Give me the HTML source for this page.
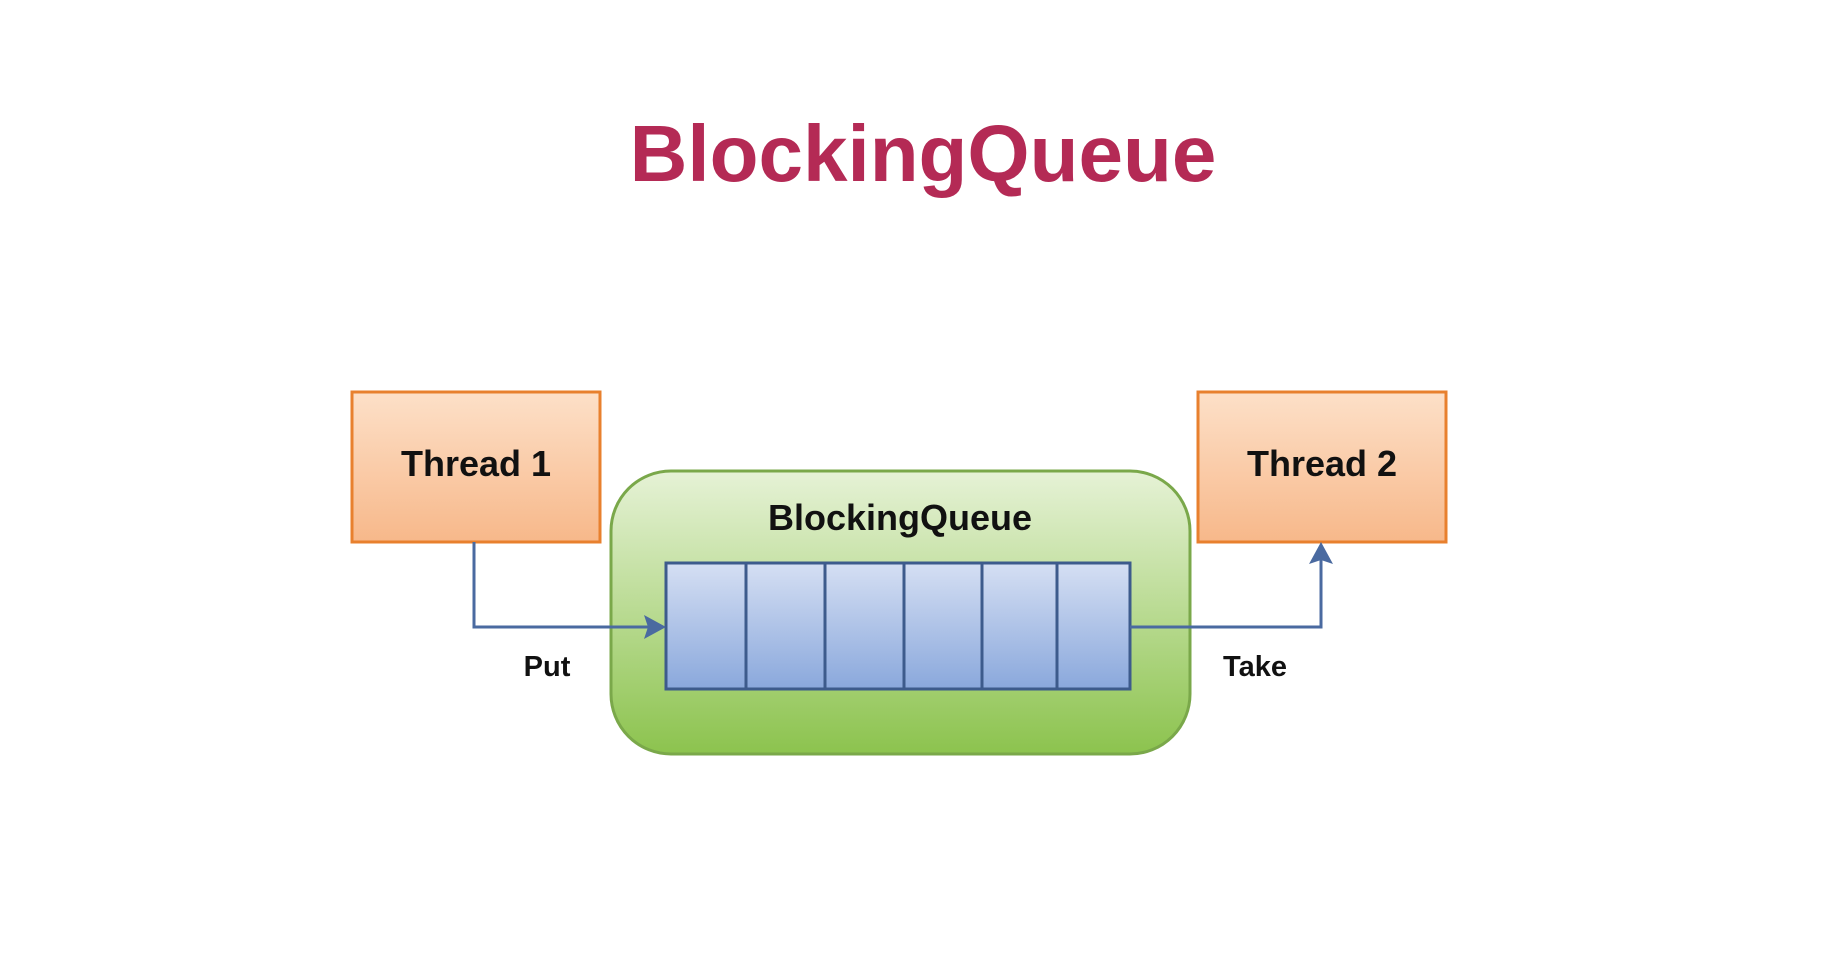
<!DOCTYPE html>
<html><head><style>
html,body{margin:0;padding:0;background:#fff;width:1827px;height:966px;overflow:hidden;font-family:"Liberation Sans",Arial,sans-serif}
</style></head><body>
<svg width="1827" height="966" viewBox="0 0 1827 966" xmlns="http://www.w3.org/2000/svg">
<defs>
<linearGradient id="og" x1="0" y1="0" x2="0" y2="1"><stop offset="0" stop-color="#fde0c8"/><stop offset="1" stop-color="#f7b88a"/></linearGradient>
<linearGradient id="gg" x1="0" y1="0" x2="0" y2="1"><stop offset="0" stop-color="#e6f2d6"/><stop offset="1" stop-color="#8cc34e"/></linearGradient>
<linearGradient id="bg" x1="0" y1="0" x2="0" y2="1"><stop offset="0" stop-color="#d5dff3"/><stop offset="1" stop-color="#8aa8dc"/></linearGradient>
</defs>
<text x="923" y="181" text-anchor="middle" font-size="80" font-weight="bold" fill="#b42a55" font-family="Liberation Sans, sans-serif">BlockingQueue</text>
<rect x="352" y="392" width="248" height="150" fill="url(#og)" stroke="#e8802e" stroke-width="3"/>
<rect x="1198" y="392" width="248" height="150" fill="url(#og)" stroke="#e8802e" stroke-width="3"/>
<text x="476" y="476" text-anchor="middle" font-size="36" font-weight="bold" fill="#111">Thread 1</text>
<text x="1322" y="476" text-anchor="middle" font-size="36" font-weight="bold" fill="#111">Thread 2</text>
<rect x="611" y="471" width="579" height="283" rx="60" fill="url(#gg)" stroke="#7aa84a" stroke-width="3"/>
<text x="900" y="530" text-anchor="middle" font-size="36" font-weight="bold" fill="#111">BlockingQueue</text>
<rect x="666" y="563" width="464" height="126" fill="url(#bg)" stroke="#3d5b8c" stroke-width="3"/>
<g stroke="#3d5b8c" stroke-width="3">
<line x1="746" y1="563" x2="746" y2="689"/><line x1="825" y1="563" x2="825" y2="689"/>
<line x1="904" y1="563" x2="904" y2="689"/><line x1="982" y1="563" x2="982" y2="689"/>
<line x1="1057" y1="563" x2="1057" y2="689"/>
</g>
<polyline points="474,542 474,627 652,627" fill="none" stroke="#4a6aa0" stroke-width="3"/>
<polygon points="666,627 644,615 648,627 644,639" fill="#4a6aa0"/>
<polyline points="1130,627 1321,627 1321,556" fill="none" stroke="#4a6aa0" stroke-width="3"/>
<polygon points="1321,542 1309,564 1321,560 1333,564" fill="#4a6aa0"/>
<text x="547" y="676" text-anchor="middle" font-size="29" font-weight="bold" fill="#111">Put</text>
<text x="1255" y="676" text-anchor="middle" font-size="29" font-weight="bold" fill="#111">Take</text>
</svg>
</body></html>
